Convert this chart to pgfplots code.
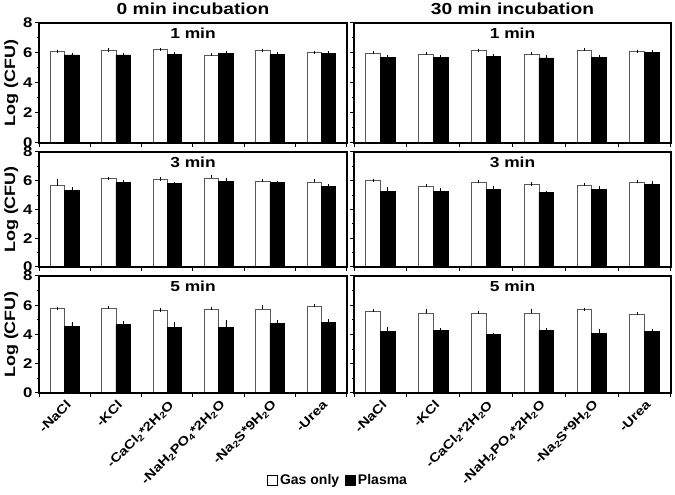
\documentclass[border=0pt]{standalone}
\usepackage{fontspec}
\setmainfont{Liberation Sans}[FakeStretch=1.2]
\newfontfamily\legfont{Liberation Sans}
\usepackage{pgfplots}
\usepackage{pgfplotstable}
\pgfplotsset{compat=1.18}

% 0 min incubation
\pgfplotstableread{
x g ge p pe
1 6.08 0.04 5.87 0.05
2 6.16 0.04 5.87 0.05
3 6.22 0.02 5.91 0.03
4 5.87 0.03 5.98 0.05
5 6.16 0.02 5.91 0.04
6 6.02 0.02 5.98 0.03
}\tAL
\pgfplotstableread{
x g ge p pe
1 5.65 0.35 5.30 0.12
2 6.14 0.04 5.86 0.09
3 6.07 0.05 5.79 0.04
4 6.19 0.09 5.95 0.14
5 5.98 0.04 5.86 0.04
6 5.91 0.11 5.58 0.09
}\tBL
\pgfplotstableread{
x g ge p pe
1 5.78 0.02 4.57 0.20
2 5.76 0.09 4.66 0.14
3 5.65 0.02 4.50 0.25
4 5.71 0.09 4.50 0.39
5 5.71 0.19 4.75 0.14
6 5.94 0.02 4.80 0.14
}\tCL
% 30 min incubation
\pgfplotstableread{
x g ge p pe
1 6.00 0.03 5.69 0.05
2 5.93 0.05 5.71 0.03
3 6.16 0.03 5.76 0.05
4 5.93 0.03 5.67 0.10
5 6.20 0.03 5.73 0.05
6 6.09 0.02 6.04 0.03
}\tAR
\pgfplotstableread{
x g ge p pe
1 6.00 0.04 5.28 0.16
2 5.63 0.02 5.28 0.12
3 5.91 0.03 5.42 0.09
4 5.74 0.04 5.16 0.03
5 5.70 0.04 5.37 0.12
6 5.91 0.03 5.74 0.12
}\tBR
\pgfplotstableread{
x g ge p pe
1 5.55 0.07 4.18 0.23
2 5.46 0.14 4.27 0.04
3 5.46 0.04 3.98 0.03
4 5.44 0.16 4.27 0.04
5 5.69 0.03 4.09 0.21
6 5.39 0.04 4.18 0.12
}\tCR

\pgfplotsset{
  panel/.style={
    scale only axis, anchor=north west, axis on top,
    xmin=0.5, xmax=6.5, ymin=0, ymax=8,
    xtick={0.5,1.5,...,6.5}, xticklabels={},
    ytick={0,2,...,8}, minor y tick num=1,
    tick align=outside, xtick pos=bottom, ytick pos=left,
    major tick length=4pt, minor tick length=2.5pt,
    xtick style={black, line width=1pt},
    ytick style={black, line width=1pt},
    axis line style={line width=1.6pt},
    /pgf/number format/assume math mode=true,
    tick label style={font=\bfseries\fontsize{14}{16}\selectfont},
    yticklabel style={xshift=1pt},
    ylabel style={font=\bfseries\fontsize{15}{17}\selectfont, yshift=-2pt},
    title style={font=\bfseries\fontsize{16}{18}\selectfont, yshift=-1.5pt},
  },
  leftpanel/.style={panel, width=308pt, ylabel={Log (CFU)}},
  rightpanel/.style={panel, width=317pt, yticklabels={}},
  bottompanel/.style={
    x tick label as interval,
    xticklabels={-NaCl,-KCl,-CaCl\textsubscript{2}*2H\textsubscript{2}O,-NaH\textsubscript{2}PO\textsubscript{4}*2H\textsubscript{2}O,-Na\textsubscript{2}S*9H\textsubscript{2}O,-Urea,{}},
    xticklabel style={font=\bfseries\fontsize{12.5}{14}\selectfont, rotate=45, anchor=north east, inner sep=1pt, xshift=0pt, yshift=-1pt},
  },
  gasbar/.style={ybar, bar width=0.28, bar shift=0pt, fill=white, draw=black!65, line width=0.8pt, forget plot,
    error bars/.cd, y dir=plus, y explicit, error bar style={black, line width=0.7pt}, error mark options={black, line width=0.7pt, mark size=1.6pt}},
  plasbar/.style={ybar, bar width=0.28, bar shift=0pt, fill=black, draw=black, line width=0.8pt, forget plot,
    error bars/.cd, y dir=plus, y explicit, error bar style={black, line width=0.7pt}, error mark options={black, line width=0.7pt, mark size=1.6pt}},
}
\newcommand{\panellabel}[1]{\node[font=\bfseries\fontsize{14.5}{16}\selectfont, anchor=north] at (rel axis cs:0.5,0.985) {#1};}
\newcommand{\bars}[1]{%
  \addplot[gasbar] table[x expr=\thisrow{x}-0.14, y=g, y error=ge] {#1};
  \addplot[plasbar] table[x expr=\thisrow{x}+0.14, y=p, y error=pe] {#1};
}

\begin{document}
\begin{tikzpicture}
\useasboundingbox (0,0) rectangle (675pt,495pt);
% row 1
\begin{axis}[leftpanel, at={(39pt,472pt)}, height=120pt, title={0 min incubation}]
\bars{\tAL}
\panellabel{1 min}
\end{axis}
\begin{axis}[rightpanel, at={(354pt,472pt)}, height=120pt, title={30 min incubation}]
\bars{\tAR}
\panellabel{1 min}
\end{axis}
% row 2
\begin{axis}[leftpanel, at={(39pt,343pt)}, height=115pt]
\bars{\tBL}
\panellabel{3 min}
\end{axis}
\begin{axis}[rightpanel, at={(354pt,343pt)}, height=115pt]
\bars{\tBR}
\panellabel{3 min}
\end{axis}
% row 3
\begin{axis}[leftpanel, bottompanel, at={(39pt,219pt)}, height=117pt]
\bars{\tCL}
\panellabel{5 min}
\end{axis}
\begin{axis}[rightpanel, bottompanel, at={(354pt,219pt)}, height=117pt,
  legend columns=2,
  legend style={draw=none, fill=none, at={(-0.05,-0.744)}, anchor=center,
    font=\legfont\bfseries\fontsize{14}{16}\selectfont,
    /tikz/every even column/.append style={column sep=4pt}}]
\addlegendimage{legend image code/.code={\draw[black, line width=0.8pt, fill=white] (0pt,-5pt) rectangle (10pt,5pt);}}
\addlegendentry{Gas only}
\addlegendimage{legend image code/.code={\draw[black, line width=0.8pt, fill=black] (0pt,-5pt) rectangle (10pt,5pt);}}
\addlegendentry{Plasma}
\bars{\tCR}
\panellabel{5 min}
\end{axis}
\end{tikzpicture}
\end{document}
